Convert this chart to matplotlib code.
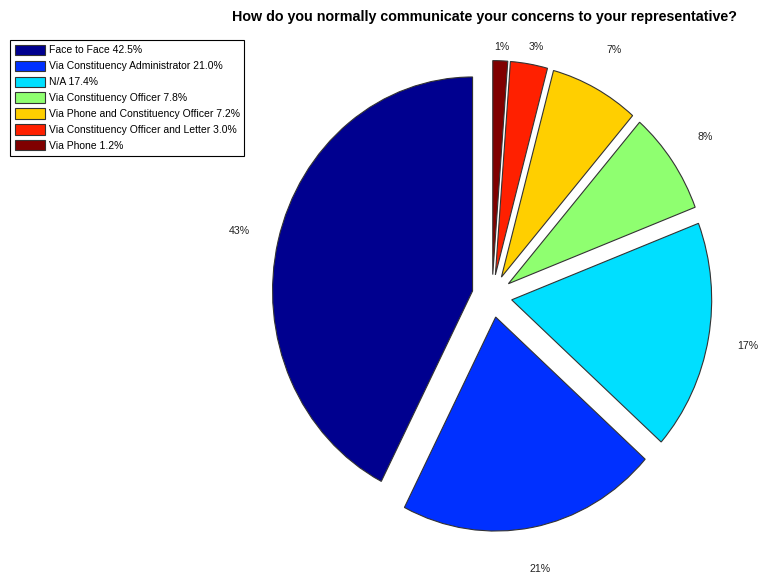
import matplotlib
matplotlib.use("Agg")
import matplotlib.pyplot as plt

categories = ["Face to Face", "Via Constituency Administrator", "N/A",
              "Via Constituency Officer", "Via Phone and Constituency Officer",
              "Via Constituency Officer and Letter", "Via Phone"]
values = [42.5, 21.0, 17.4, 7.8, 7.2, 3.0, 1.2]
pct_labels = ["43%", "21%", "17%", "8%", "7%", "3%", "1%"]
colors = ["#00008F", "#0030FF", "#00DFFF", "#8FFF70", "#FFCF00", "#FF2000", "#800000"]

plt.rcParams['font.family'] = ['Liberation Sans', 'DejaVu Sans']

W, H = 758, 573
fig = plt.figure(figsize=(W / 100, H / 100), dpi=100)
ax = fig.add_axes([0, 0, 1, 1])

wedges, texts = ax.pie(values, labels=pct_labels, colors=colors,
                       explode=[0.1] * len(values), startangle=90,
                       counterclock=True, labeldistance=1.2,
                       wedgeprops=dict(edgecolor="#333333", linewidth=0.8),
                       textprops=dict(fontsize=7.7, color="#222222"))

ax.set_aspect("auto")
cx, cy = 492, 296
rx, ry = 200, 214
ax.set_xlim(-cx / rx, (W - cx) / rx)
ax.set_ylim(-(H - cy) / ry, cy / ry)
ax.axis("off")

# keep labels below the title (clamped at the top of the plotting area)
ytop = (cy - 47) / ry
for t in texts:
    t.set_ha("center")
    t.set_va("center")
    x, y = t.get_position()
    if y > ytop:
        t.set_position((x, ytop))

fig.text(485 / W, 1 - 17 / H, "How do you normally communicate your concerns to your representative?",
         ha="center", va="center", fontsize=10.3, fontweight="bold")

leg_labels = [f"{c} {v:.1f}%" for c, v in zip(categories, values)]
leg = fig.legend(wedges, leg_labels, loc="upper left",
                 bbox_to_anchor=(10 / W, 1 - 40 / H), borderaxespad=0,
                 fontsize=7.5, fancybox=False, edgecolor="black",
                 framealpha=1, handlelength=2.9, handleheight=1.15,
                 handletextpad=0.35, labelspacing=0.5, borderpad=0.45)
leg.get_frame().set_linewidth(0.8)

fig.savefig("out.png", dpi=100)
